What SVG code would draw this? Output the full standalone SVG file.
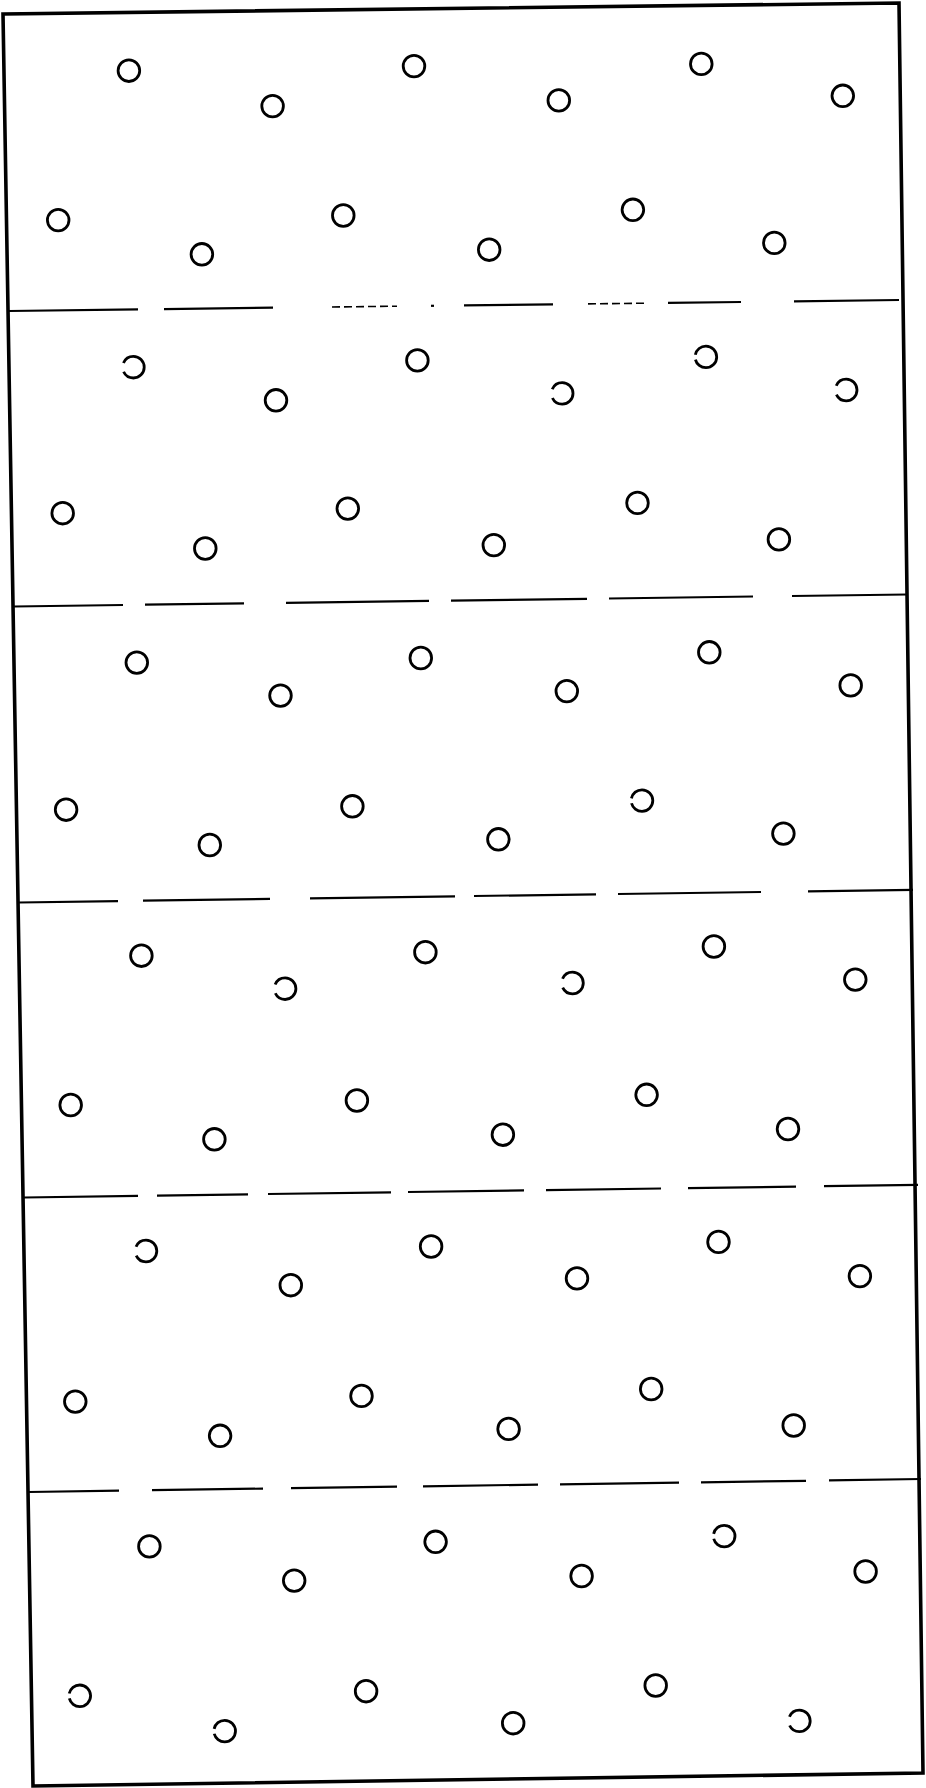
<svg xmlns="http://www.w3.org/2000/svg" width="926" height="1788" viewBox="0 0 926 1788">
<style>
.frame{fill:none;stroke:#000;stroke-width:3.6;stroke-linejoin:miter}
.c{fill:none;stroke:#000;stroke-width:2.8}
.g{stroke-dasharray:29 9 40}
.gs{stroke-dasharray:31 5 40}
.d{fill:none;stroke:#000;stroke-width:2.2;stroke-linecap:butt}
.f{stroke-width:1.6;stroke-dasharray:8 4}
</style>
<rect width="926" height="1788" fill="#fff"/>
<polygon id="frame" class="frame" points="3,14 899,3 923,1773 33,1786"/>
<g id="dividers">
  <g id="divider1">
    <line class="d" x1="9" y1="311" x2="138" y2="309.4"/>
    <line class="d" x1="164" y1="309.1" x2="273" y2="307.7"/>
    <line class="d f" x1="332" y1="307" x2="397" y2="306.2"/>
    <line class="d" x1="431" y1="305.8" x2="434" y2="305.8"/>
    <line class="d" x1="464" y1="305.4" x2="553" y2="304.3"/>
    <line class="d f" x1="588" y1="303.9" x2="644" y2="303.2"/>
    <line class="d" x1="668" y1="302.9" x2="741" y2="302"/>
    <line class="d" x1="794" y1="301.3" x2="899" y2="300"/>
  </g>
  <g id="divider2">
    <line class="d" x1="14" y1="606.5" x2="123" y2="605"/>
    <line class="d" x1="145" y1="604.7" x2="244" y2="603.4"/>
    <line class="d" x1="286" y1="602.8" x2="429" y2="600.9"/>
    <line class="d" x1="451" y1="600.6" x2="587" y2="598.8"/>
    <line class="d" x1="609" y1="598.5" x2="753" y2="596.5"/>
    <line class="d" x1="792" y1="596" x2="907" y2="594.5"/>
  </g>
  <g id="divider3">
    <line class="d" x1="19" y1="902.5" x2="118" y2="901.1"/>
    <line class="d" x1="143" y1="900.7" x2="270" y2="898.9"/>
    <line class="d" x1="310" y1="898.4" x2="455" y2="896.3"/>
    <line class="d" x1="474" y1="896" x2="596" y2="894.3"/>
    <line class="d" x1="618" y1="894" x2="761" y2="892"/>
    <line class="d" x1="808" y1="891.3" x2="913" y2="889.8"/>
  </g>
  <g id="divider4">
    <line class="d" x1="24" y1="1197.5" x2="138" y2="1195.9"/>
    <line class="d" x1="157" y1="1195.6" x2="248" y2="1194.3"/>
    <line class="d" x1="268" y1="1194" x2="391" y2="1192.3"/>
    <line class="d" x1="408" y1="1192" x2="524" y2="1190.4"/>
    <line class="d" x1="546" y1="1190.1" x2="661" y2="1188.5"/>
    <line class="d" x1="688" y1="1188.1" x2="796" y2="1186.6"/>
    <line class="d" x1="824" y1="1186.2" x2="918" y2="1184.9"/>
  </g>
  <g id="divider5">
    <line class="d" x1="29" y1="1492" x2="119" y2="1490.7"/>
    <line class="d" x1="152" y1="1490.2" x2="263" y2="1488.6"/>
    <line class="d" x1="291" y1="1488.2" x2="397" y2="1486.7"/>
    <line class="d" x1="423" y1="1486.3" x2="538" y2="1484.6"/>
    <line class="d" x1="560" y1="1484.3" x2="679" y2="1482.6"/>
    <line class="d" x1="701" y1="1482.3" x2="806" y2="1480.8"/>
    <line class="d" x1="829" y1="1480.4" x2="921" y2="1479"/>
  </g>
</g>
<g id="panel1">
  <circle class="c" cx="128.9" cy="70.7" r="10.8"/>
  <circle class="c" cx="272.6" cy="106.1" r="10.8"/>
  <circle class="c" cx="414.0" cy="66.1" r="10.8"/>
  <circle class="c" cx="558.8" cy="100.4" r="10.8"/>
  <circle class="c" cx="701.3" cy="63.9" r="10.8"/>
  <circle class="c" cx="842.8" cy="95.8" r="10.8"/>
  <circle class="c" cx="58.2" cy="220.1" r="10.8"/>
  <circle class="c" cx="201.9" cy="254.3" r="10.8"/>
  <circle class="c" cx="343.3" cy="215.5" r="10.8"/>
  <circle class="c" cx="489.2" cy="249.7" r="10.8"/>
  <circle class="c" cx="632.9" cy="209.8" r="10.8"/>
  <circle class="c" cx="774.3" cy="242.9" r="10.8"/>
</g>
<g id="panel2">
  <circle class="c g" cx="133.4" cy="367.2" r="10.8"/>
  <circle class="c" cx="276.0" cy="400.3" r="10.8"/>
  <circle class="c" cx="417.4" cy="360.4" r="10.8"/>
  <circle class="c g" cx="562.2" cy="393.4" r="10.8"/>
  <circle class="c gs" cx="705.9" cy="356.9" r="10.8"/>
  <circle class="c g" cx="846.2" cy="390.0" r="10.8"/>
  <circle class="c" cx="62.7" cy="513.2" r="10.8"/>
  <circle class="c" cx="205.3" cy="548.5" r="10.8"/>
  <circle class="c" cx="347.8" cy="508.6" r="10.8"/>
  <circle class="c" cx="493.8" cy="545.1" r="10.8"/>
  <circle class="c" cx="637.5" cy="502.9" r="10.8"/>
  <circle class="c" cx="778.9" cy="539.4" r="10.8"/>
</g>
<g id="panel3">
  <circle class="c" cx="136.8" cy="662.6" r="10.8"/>
  <circle class="c" cx="280.5" cy="695.6" r="10.8"/>
  <circle class="c" cx="420.8" cy="658.0" r="10.8"/>
  <circle class="c" cx="566.8" cy="691.1" r="10.8"/>
  <circle class="c" cx="709.3" cy="652.3" r="10.8"/>
  <circle class="c" cx="850.7" cy="685.4" r="10.8"/>
  <circle class="c" cx="66.1" cy="809.7" r="10.8"/>
  <circle class="c" cx="209.8" cy="845.0" r="10.8"/>
  <circle class="c" cx="352.4" cy="806.3" r="10.8"/>
  <circle class="c" cx="498.4" cy="839.3" r="10.8"/>
  <circle class="c gs" cx="642.0" cy="800.6" r="10.8"/>
  <circle class="c" cx="783.4" cy="833.6" r="10.8"/>
</g>
<g id="panel4">
  <circle class="c" cx="141.4" cy="955.7" r="10.8"/>
  <circle class="c g" cx="285.1" cy="988.7" r="10.8"/>
  <circle class="c" cx="425.4" cy="952.2" r="10.8"/>
  <circle class="c g" cx="572.5" cy="983.0" r="10.8"/>
  <circle class="c" cx="713.9" cy="946.5" r="10.8"/>
  <circle class="c" cx="855.3" cy="979.6" r="10.8"/>
  <circle class="c" cx="70.7" cy="1105.0" r="10.8"/>
  <circle class="c" cx="214.4" cy="1139.3" r="10.8"/>
  <circle class="c" cx="356.9" cy="1100.5" r="10.8"/>
  <circle class="c" cx="502.9" cy="1134.7" r="10.8"/>
  <circle class="c" cx="646.6" cy="1094.8" r="10.8"/>
  <circle class="c" cx="788.0" cy="1129.0" r="10.8"/>
</g>
<g id="panel5">
  <circle class="c g" cx="146.0" cy="1251.0" r="10.8"/>
  <circle class="c" cx="290.8" cy="1285.2" r="10.8"/>
  <circle class="c" cx="431.1" cy="1246.5" r="10.8"/>
  <circle class="c" cx="577.0" cy="1278.4" r="10.8"/>
  <circle class="c" cx="718.5" cy="1241.9" r="10.8"/>
  <circle class="c" cx="859.9" cy="1276.1" r="10.8"/>
  <circle class="c" cx="75.3" cy="1401.6" r="10.8"/>
  <circle class="c" cx="220.1" cy="1435.8" r="10.8"/>
  <circle class="c" cx="361.5" cy="1395.9" r="10.8"/>
  <circle class="c" cx="508.6" cy="1428.9" r="10.8"/>
  <circle class="c" cx="651.2" cy="1389.0" r="10.8"/>
  <circle class="c" cx="793.7" cy="1425.5" r="10.8"/>
</g>
<g id="panel6">
  <circle class="c" cx="149.4" cy="1546.4" r="10.8"/>
  <circle class="c" cx="294.2" cy="1580.6" r="10.8"/>
  <circle class="c" cx="435.6" cy="1541.8" r="10.8"/>
  <circle class="c" cx="581.6" cy="1576.0" r="10.8"/>
  <circle class="c gs" cx="724.2" cy="1536.1" r="10.8"/>
  <circle class="c" cx="865.6" cy="1571.5" r="10.8"/>
  <circle class="c gs" cx="79.8" cy="1695.8" r="10.8"/>
  <circle class="c gs" cx="224.7" cy="1731.1" r="10.8"/>
  <circle class="c" cx="366.1" cy="1691.2" r="10.8"/>
  <circle class="c" cx="513.2" cy="1723.2" r="10.8"/>
  <circle class="c" cx="655.7" cy="1685.5" r="10.8"/>
  <circle class="c g" cx="799.4" cy="1720.9" r="10.8"/>
</g>
</svg>
